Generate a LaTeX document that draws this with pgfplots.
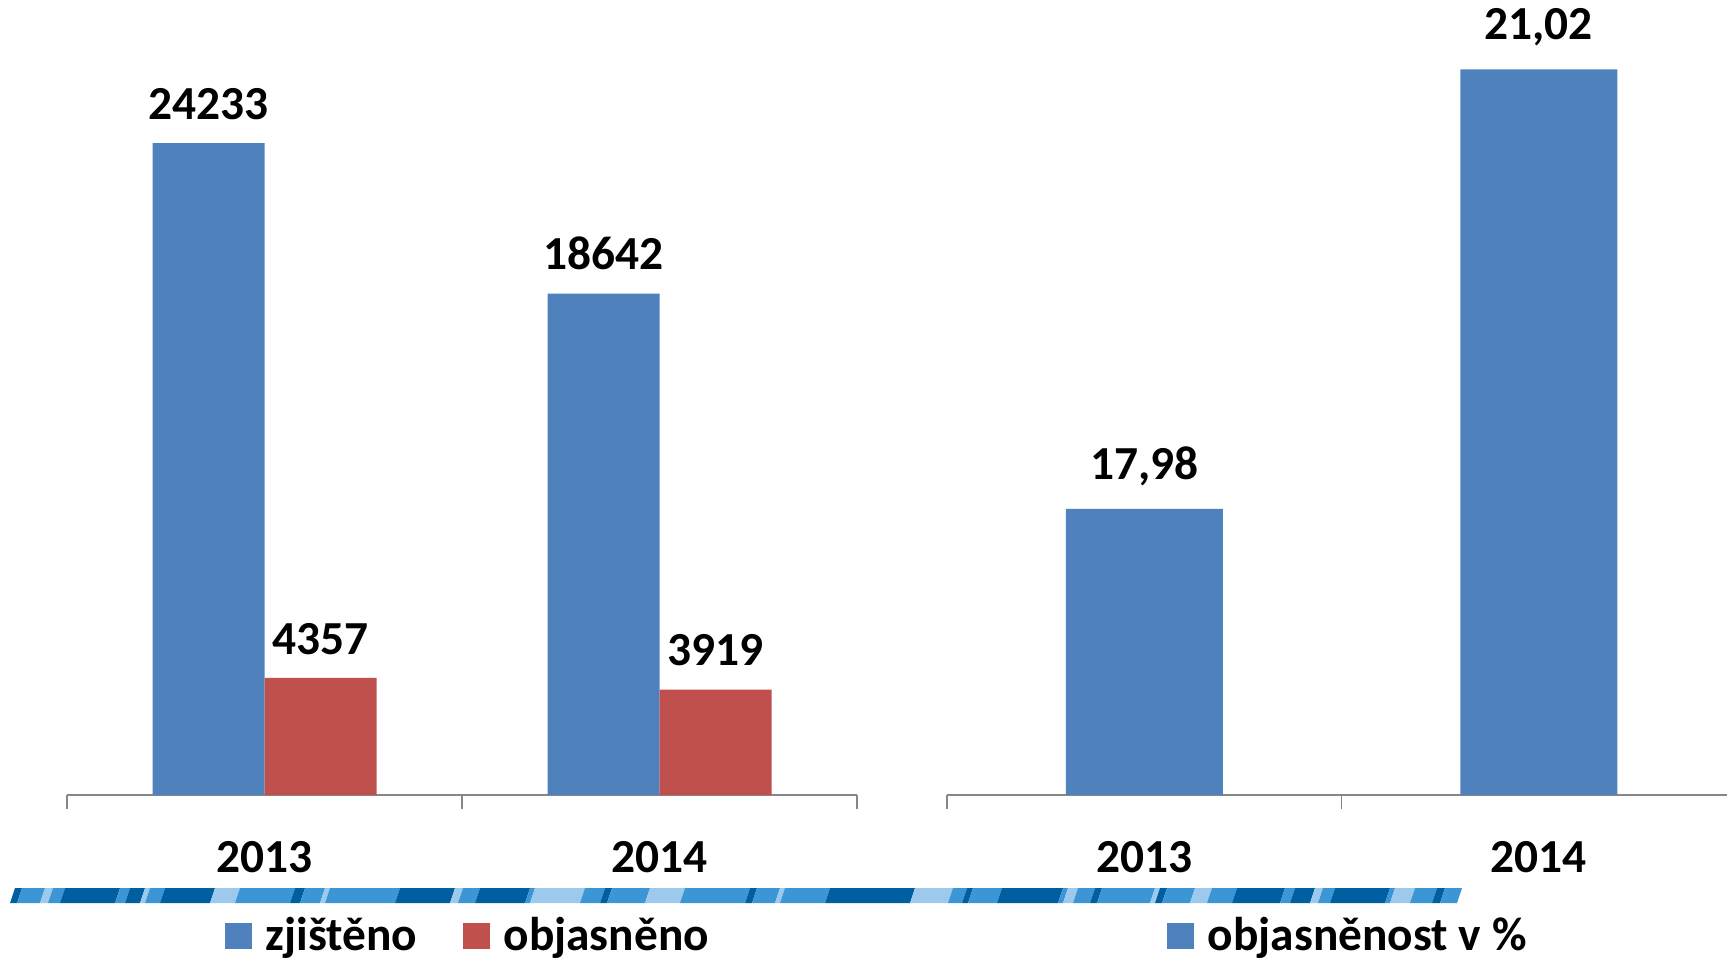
\documentclass[border=0pt]{standalone}
\usepackage{pgfplots}
\pgfplotsset{compat=1.18}
\usepackage{fontspec}
\setmainfont{Carlito}
\definecolor{cBlue}{HTML}{4F81BD}
\definecolor{cRed}{HTML}{C0504D}
\definecolor{cAxis}{HTML}{878787}
\definecolor{sD}{HTML}{005FA0}
\definecolor{sM}{HTML}{3C96D6}
\definecolor{sL}{HTML}{9DCAEC}
\newcommand{\bigfont}{\fontsize{23.7}{28}\selectfont\bfseries}
\pgfplotsset{
  common/.style={
    scale only axis,
    ybar, bar width=56pt,
    xmin=-0.5, xmax=1.5,
    hide y axis,
    axis x line*=bottom,
    x axis line style={-, draw=cAxis, line width=0.8pt},
    xtick={-0.5,0.5,1.5},
    xticklabels={},
    tick align=outside,
    major tick length=7pt,
    tick style={draw=cAxis, line width=0.8pt},
    extra x ticks={0,1},
    extra x tick labels={2013,2014},
    extra x tick style={major tick length=0pt,
      xticklabel style={font=\bigfont, inner sep=0pt, anchor=north, yshift=-23pt}},
    nodes near coords,
    every node near coord/.append style={font=\bigfont, inner sep=0pt, anchor=south, yshift=11.5pt, text=black},
    /pgf/number format/assume math mode=true,
    legend columns=2,
    legend style={draw=none, fill=none, font=\bigfont, anchor=center,
      /tikz/every odd column/.append style={column sep=5pt},
      /tikz/every even column/.append style={column sep=21pt}},
    legend image code/.code={\path[#1] (0pt,-6.6pt) rectangle (13.2pt,6.6pt);},
  }
}
\begin{document}
\begin{tikzpicture}
\path[use as bounding box] (0,0) rectangle (863.5pt,-479.5pt);
\begin{axis}[common,
  at={(33.5pt,-397.5pt)}, anchor=south west,
  width=395pt, height=397.5pt,
  ymin=0, ymax=29557,
  nodes near coords={\pgfmathprintnumber[fixed, precision=0, set thousands separator={}]{\pgfplotspointmeta}},
  legend style={at={(0.509,-0.177)}},
]
\addplot[fill=cBlue, draw=none, bar shift=-28pt] coordinates {(0,24233) (1,18642)};
\addplot[fill=cRed, draw=none, bar shift=28pt] coordinates {(0,4357) (1,3919)};
\legend{zjištěno, objasněno}
\end{axis}
\begin{axis}[common,
  at={(473.5pt,-397.5pt)}, anchor=south west,
  width=394.5pt, height=397.5pt,
  ymin=16, ymax=21.5,
  bar width=78.5pt,
  nodes near coords={\pgfmathprintnumber[fixed, fixed zerofill, precision=2, use comma]{\pgfplotspointmeta}},
  legend style={at={(0.5095,-0.177)}},
]
\addplot[fill=cBlue, draw=none, bar shift=0pt] coordinates {(0,17.98) (1,21.02)};
\legend{objasněnost v \%}
\end{axis}
\begin{scope}[x=0.5pt, y=-0.5pt]
\foreach \a/\b/\c in {10/17/sD, 17/40/sM, 40/48/sL, 48/60/sM, 60/115/sD, 115/125/sM, 125/140/sD, 140/145/sL, 145/160/sM, 160/210/sD, 210/235/sL, 235/290/sM, 290/300/sD, 300/320/sM, 320/325/sL, 325/395/sM, 395/450/sD, 450/458/sL, 458/475/sM, 475/525/sD, 525/530/sM, 530/580/sL, 580/600/sM, 600/607/sD, 607/645/sM, 645/680/sL, 680/745/sM, 745/752/sD, 752/775/sM, 775/780/sL, 780/825/sM, 825/910/sD, 910/948/sL, 948/962/sM, 962/968/sD, 968/997/sM, 997/1058/sD, 1058/1063/sM, 1063/1073/sL, 1073/1090/sM, 1090/1097/sD, 1097/1150/sM, 1150/1155/sL, 1155/1162/sD, 1162/1190/sM, 1190/1207/sL, 1207/1232/sM, 1232/1280/sD, 1280/1290/sM, 1290/1310/sD, 1310/1318/sL, 1318/1330/sM, 1330/1385/sD, 1385/1390/sM, 1390/1410/sL, 1410/1432/sM, 1432/1440/sD, 1440/1457/sM}
  \fill[\c] (\a,903) -- (\b,903) -- (\b+5,888) -- (\a+5,888) -- cycle;
\end{scope}
\end{tikzpicture}
\end{document}
